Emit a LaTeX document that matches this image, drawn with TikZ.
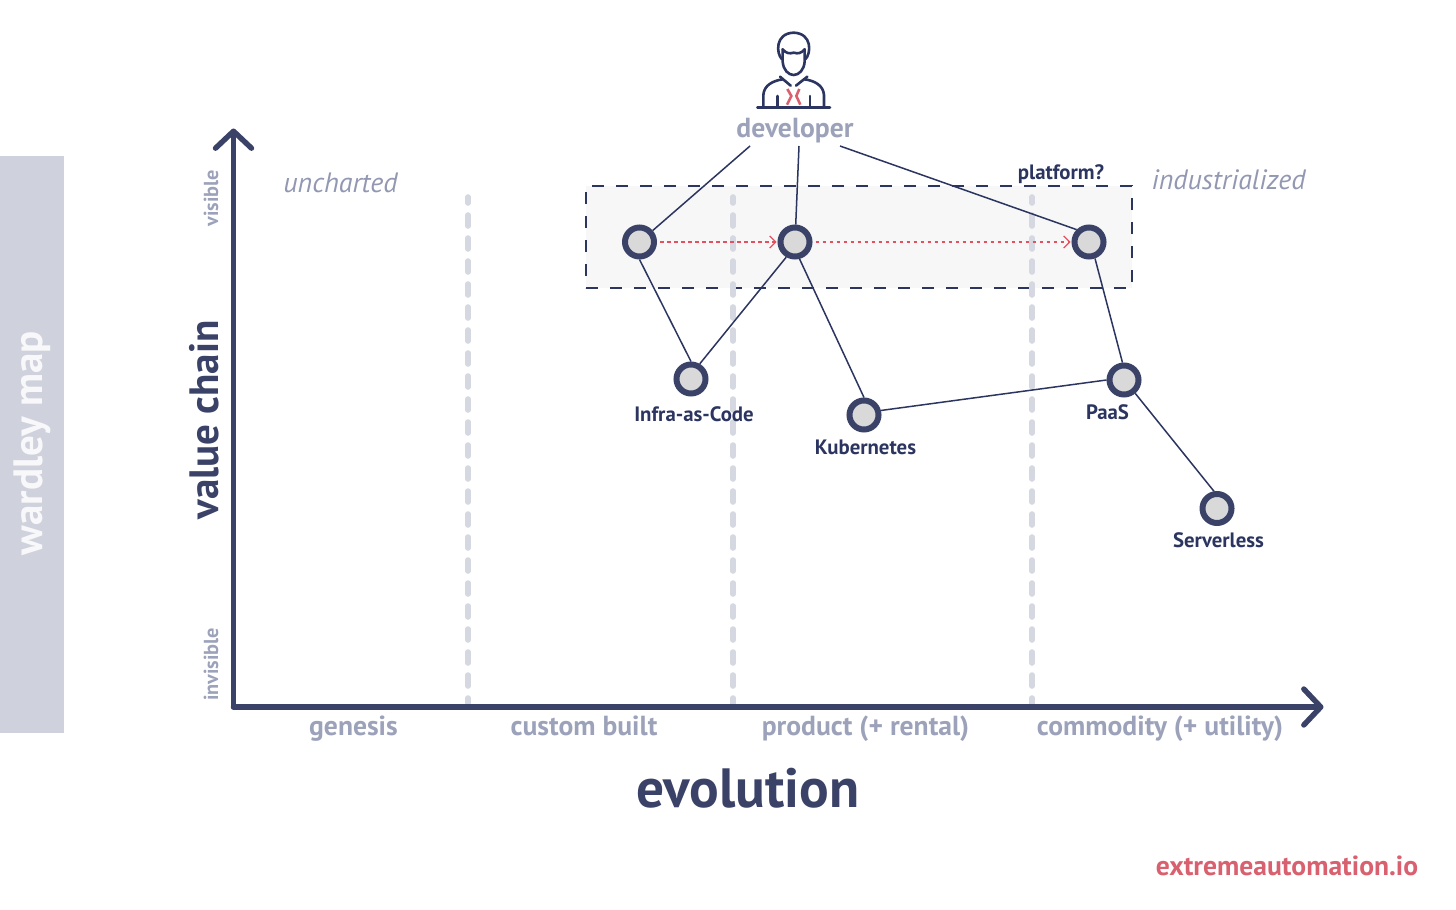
\documentclass[tikz,border=0pt]{standalone}
\usepackage{fontspec}
\setmainfont{PT Sans}
\usetikzlibrary{arrows.meta}
\definecolor{navy}{HTML}{3B4268}
\definecolor{linknavy}{HTML}{2B3560}
\definecolor{greytext}{HTML}{9CA2BA}
\definecolor{zoneline}{HTML}{D5D8E0}
\definecolor{bandgrey}{HTML}{CFD2DC}
\definecolor{redtext}{HTML}{D9606E}
\definecolor{movered}{HTML}{E4505F}
\begin{document}
\begin{tikzpicture}[>=latex, x=1pt, y=-1pt]

\tikzstyle{comp}=[circle, draw=navy, line width=6pt, fill=black!15, minimum size=29pt, inner sep=0pt]
\tikzstyle{link}=[draw=linknavy, line width=1.5pt]
\tikzstyle{moves}=[draw=movered, line width=1.2pt, dash pattern=on 3.5pt off 3.5pt, -{Straight Barb[length=6pt,width=12pt,line width=1.2pt]}, shorten >=1pt, shorten <=3pt]
\tikzstyle{zone}=[draw=zoneline, line width=5.6pt, line cap=round, dash pattern=on 11pt off 12pt, dash phase=5pt]
\tikzstyle{axis}=[draw=navy, line width=5.4pt, line cap=round, -{Straight Barb[round,length=17pt,width=36pt,line width=5.4pt]}]
\tikzstyle{comptext}=[text=linknavy, font=\fontsize{20.8}{24}\selectfont\bfseries]
\tikzstyle{stage}=[text=greytext, anchor=base, font=\fontsize{27.6}{30}\selectfont\bfseries]
\tikzstyle{small}=[text=greytext, font=\fontsize{20.3}{24}\selectfont\bfseries, rotate=90]
\tikzstyle{region}=[text=greytext!90!navy, font=\fontsize{28}{32}\selectfont\itshape]
\tikzstyle{icon}=[draw=linknavy, line width=2.6pt, line cap=round, line join=round]

\useasboundingbox (0,0) rectangle (1456,910);

% --- left band ---
\fill[bandgrey] (0,156) rectangle (64,733);
\node[text=white!85!bandgrey, rotate=90, font=\fontsize{41}{44}\selectfont\bfseries] (mapname) at (32,443) {wardley map};

% --- platform box ---
\node[rectangle, draw=linknavy, fill=black!3, line width=1.6pt, dash pattern=on 12pt off 12pt, minimum width=546pt, minimum height=102pt, inner sep=0pt] (platbox) at (859,237) {};
\node[comptext] (plattext) at (1061,174) {platform?};

% --- stage separators ---
\coordinate (s1a) at (468,197);
\coordinate (s1b) at (468,705);
\coordinate (s2a) at (733,197);
\coordinate (s2b) at (733,705);
\coordinate (s3a) at (1032,197);
\coordinate (s3b) at (1032,705);
\draw[zone] (s1a) -- (s1b);
\draw[zone] (s2a) -- (s2b);
\draw[zone] (s3a) -- (s3b);

% --- axes ---
\coordinate (origin) at (233.5,707);
\coordinate (ytip) at (233.5,128.5);
\coordinate (xtip) at (1323.5,707);
\draw[axis] (origin) -- (ytip);
\draw[axis] (origin) -- (xtip);

\node[text=navy, rotate=90, font=\fontsize{41}{44}\selectfont\bfseries] (ylabel) at (204,420) {value chain};
\node[text=navy, font=\fontsize{55.3}{60}\selectfont\bfseries] (xlabel) at (748,788) {evolution};
\node[small] (vis) at (211,198.5) {visible};
\node[small] (invis) at (211,664.5) {invisible};

\node[stage] (st1) at (353.5,735.5) {genesis};
\node[stage] (st2) at (584,735.5) {custom built};
\node[stage] (st3) at (865.5,735.5) {product (+ rental)};
\node[stage] (st4) at (1160,735.5) {commodity (+ utility)};

\node[region] (unch) at (340.5,183) {uncharted};
\node[region] (indus) at (1228.5,180) {industrialized};

% --- developer icon ---
\begin{scope}[xshift=720pt, yshift=-20pt, x=0.3333pt, y=-0.3333pt]
\draw[icon] (186,118) .. controls (168,100) and (165,40) .. (221,38) .. controls (277,40) and (274,100) .. (256,118);
\draw[icon] (188,88) -- (188,125) .. controls (190,150) and (205,165) .. (221,165) .. controls (237,165) and (252,150) .. (254,125) -- (254,88);
\draw[icon] (188,88) .. controls (198,100) and (208,102) .. (221,98) .. controls (234,102) and (244,100) .. (254,88);
\draw[icon] (130,262) -- (130,225) .. controls (132,195) and (160,182) .. (188,178);
\draw[icon] (180,170) -- (212,197);
\draw[icon] (312,262) -- (312,225) .. controls (310,195) and (282,182) .. (254,178);
\draw[icon] (262,170) -- (228,197);
\draw[icon] (172,228) -- (172,262);
\draw[icon] (270,228) -- (270,262);
\draw[icon] (112,263) -- (330,263);
\draw[redtext, line width=2.6pt] (202,207) -- (214,228) -- (201,254);
\draw[redtext, line width=2.6pt] (238,207) -- (229,228) -- (241,254);
\end{scope}
\node[text=greytext, font=\fontsize{27.6}{30}\selectfont\bfseries] (dev) at (795,130.5) {developer};

% --- components ---
\coordinate (devl) at (750,146);
\coordinate (devm) at (799,146);
\coordinate (devr) at (840,146);
\node[comp] (web) at (639.5,242) {};
\node[comp] (mid) at (795,242) {};
\node[comp] (top) at (1089,242) {};
\node[comp] (iac) at (691,379) {};
\node[comp] (k8s) at (864,415) {};
\node[comp] (paas) at (1124,380) {};
\node[comp] (srvl) at (1217,508.5) {};

% --- links ---
\draw[link] (devl) -- (web);
\draw[link] (devm) -- (mid);
\draw[link] (devr) -- (top.135);
\draw[link] (web.south) -- (iac.north);
\draw[link] (mid.240) -- (iac.60);
\draw[link] (mid.285) -- (k8s.north);
\draw[link] (k8s.15) -- (paas.west);
\draw[link] (top.-70) -- (paas.95);
\draw[link] (paas.-50) -- (srvl.100);

% --- movement ---
\draw[moves] (web) -- (mid);
\draw[moves] (mid) -- (top);

% --- labels ---
\node[comptext] (iactext) at (694,414) {Infra-as-Code};
\node[comptext] (k8stext) at (865.5,447) {Kubernetes};
\node[comptext] (paastext) at (1107.5,412) {PaaS};
\node[comptext] (srvltext) at (1218.5,540) {Serverless};
\node[text=redtext, font=\fontsize{27.6}{30}\selectfont\bfseries] (site) at (1287,866) {extremeautomation.io};

\end{tikzpicture}
\end{document}
